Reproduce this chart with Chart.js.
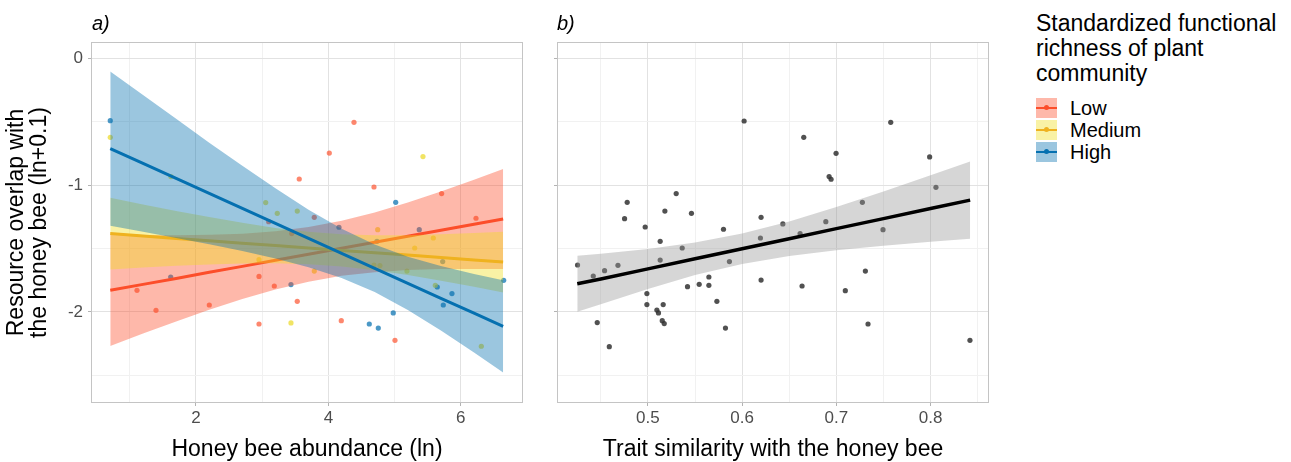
<!DOCTYPE html>
<html>
<head>
<meta charset="utf-8">
<script src="https://cdn.jsdelivr.net/npm/chart.js@4.4.0/dist/chart.umd.min.js"></script>
<style>
  body { margin: 0; width: 1291px; height: 462px; background: #fff; position: relative; overflow: hidden;
         font-family: "Liberation Sans", Arial, sans-serif; }
  canvas { position: absolute; top: 0; }
  #cA { left: 0; }
  #cB { left: 540px; }
  .tag { position: absolute; top: 12px; font-size: 20px; font-style: italic; color: #000; }
  #legendTitle { position: absolute; left: 1036px; top: 11px; font-size: 23px; line-height: 25px; color: #000; }
  .key { position: absolute; left: 1036px; width: 21px; height: 20px; }
  .key .ln { position: absolute; left: 0; top: 9px; width: 21px; height: 2.5px; }
  .key .pt { position: absolute; left: 8px; top: 7px; width: 5px; height: 5px; border-radius: 50%; }
  .lab { position: absolute; left: 1070px; font-size: 20px; line-height: 22px; color: #000; }
</style>
</head>
<body>
<canvas id="cA" width="540" height="462"></canvas>
<canvas id="cB" width="460" height="462"></canvas>
<div class="tag" style="left:92px">a)</div>
<div class="tag" style="left:557px">b)</div>
<div id="legendTitle">Standardized functional<br>richness of plant<br>community</div>
<div id="legend"></div>
<script>
// --- panel a: observations by functional richness class ---
const lowX  = [3.560, 3.787, 4.387, 4.014, 4.689, 5.711, 6.230, 3.098, 3.446, 1.109, 1.396, 2.201, 2.952, 3.183, 3.530, 2.952, 4.195, 5.006];
const lowY  = [-0.951, -1.254, -0.503, -0.746, -1.014, -1.066, -1.261, -1.288, -1.382, -1.830, -1.988, -1.946, -1.720, -1.796, -1.917, -2.096, -2.070, -2.225];
const medX  = [0.705, 1.622, 3.053, 3.228, 3.530, 5.429, 2.952, 3.435, 3.787, 4.745, 5.585, 5.304, 4.689, 4.779, 5.187, 5.615, 6.310];
const medY  = [-0.622, -0.932, -1.137, -1.222, -1.204, -0.774, -1.588, -2.088, -1.678, -1.351, -1.417, -1.496, -1.630, -1.635, -1.678, -1.791, -2.272];
const highX = [0.705, 5.017, 1.618, 3.435, 4.160, 5.373, 4.734, 5.727, 5.645, 5.867, 5.736, 6.648, 4.980, 4.618, 4.754];
const highY = [-0.490, -1.135, -1.725, -1.785, -1.332, -1.351, -1.443, -1.603, -1.804, -1.856, -1.946, -1.751, -2.009, -2.096, -2.128];

// --- panel a: fitted lines and 95% bands ---
const aFitX = [0.705, 1.2, 1.7, 2.2, 2.7, 3.2, 3.7, 4.2, 4.7, 5.2, 5.7, 6.2, 6.64];
const lowFit   = [-1.830, -1.783, -1.736, -1.688, -1.641, -1.593, -1.546, -1.498, -1.451, -1.403, -1.356, -1.309, -1.267];
const lowUpper = [-1.390, -1.394, -1.396, -1.392, -1.383, -1.363, -1.330, -1.281, -1.215, -1.137, -1.050, -0.957, -0.872];
const lowLower = [-2.270, -2.172, -2.076, -1.984, -1.899, -1.823, -1.762, -1.716, -1.687, -1.669, -1.662, -1.661, -1.662];
const medFit   = [-1.382, -1.401, -1.420, -1.439, -1.458, -1.477, -1.496, -1.515, -1.533, -1.552, -1.571, -1.590, -1.607];
const medUpper = [-1.099, -1.152, -1.203, -1.252, -1.297, -1.337, -1.368, -1.387, -1.395, -1.395, -1.388, -1.378, -1.367];
const medLower = [-1.665, -1.650, -1.637, -1.626, -1.619, -1.617, -1.624, -1.642, -1.671, -1.709, -1.754, -1.802, -1.847];
const highFit   = [-0.711, -0.828, -0.946, -1.065, -1.183, -1.301, -1.420, -1.538, -1.656, -1.775, -1.893, -2.011, -2.115];
const highUpper = [-0.101, -0.288, -0.476, -0.664, -0.846, -1.024, -1.193, -1.344, -1.468, -1.565, -1.639, -1.702, -1.750];
const highLower = [-1.321, -1.368, -1.416, -1.466, -1.520, -1.578, -1.647, -1.732, -1.844, -1.985, -2.147, -2.321, -2.480];

// --- panel b: trait similarity ---
const bX = [0.4253, 0.4420, 0.4540, 0.4682, 0.4462, 0.4590, 0.4780, 0.4752, 0.4971, 0.5300, 0.5180, 0.5462, 0.5130,
            0.5364, 0.5130, 0.4989, 0.4989, 0.5162, 0.5095, 0.5112, 0.5152, 0.5173, 0.5420, 0.5544, 0.5647, 0.5647,
            0.5732, 0.5823, 0.5802, 0.5865, 0.6021, 0.6201, 0.6194, 0.6201, 0.6654, 0.6997, 0.6923, 0.6944, 0.7577,
            0.7990, 0.8057, 0.6432, 0.6615, 0.6888, 0.7276, 0.7495, 0.6636, 0.7095, 0.7308, 0.7336, 0.8418];
const bY = [-1.630, -1.717, -1.675, -1.633, -2.085, -2.275, -1.135, -1.264, -1.330, -1.066, -1.204, -1.222, -1.443,
            -1.496, -1.591, -1.856, -1.943, -1.943, -1.986, -2.009, -2.070, -2.093, -1.801, -1.783, -1.725, -1.791,
            -1.917, -2.128, -1.348, -1.603, -0.493, -1.254, -1.417, -1.749, -0.622, -0.748, -0.932, -0.953, -0.503,
            -0.777, -1.017, -1.306, -1.382, -1.288, -1.135, -1.351, -1.796, -1.833, -1.678, -2.096, -2.225];
const bFitX  = [0.425, 0.45, 0.5, 0.55, 0.6, 0.65, 0.7, 0.75, 0.8, 0.842];
const bFit   = [-1.778, -1.741, -1.661, -1.581, -1.502, -1.423, -1.343, -1.264, -1.184, -1.118];
const bUpper = [-1.558, -1.541, -1.503, -1.452, -1.381, -1.286, -1.172, -1.050, -0.922, -0.813];
const bLower = [-2.000, -1.940, -1.820, -1.710, -1.622, -1.560, -1.514, -1.478, -1.446, -1.423];

// --- axes ---
const yTicks = [-2.5, -2, -1.5, -1, -0.5, 0];
const yLabels = [-2, -1, 0];
const aXTicks = [1, 2, 3, 4, 5, 6];
const aXLabels = [2, 4, 6];
const bXTicks = [0.45, 0.5, 0.55, 0.6, 0.65, 0.7, 0.75, 0.8, 0.85];
const bXLabels = [0.5, 0.6, 0.7, 0.8];

const groups = ["Low", "Medium", "High"];
const lineColors = ["#FC4E2A", "#EFB21F", "#0570B0"];
const fillColors = ["rgba(252,78,42,0.4)", "rgba(240,222,30,0.4)", "rgba(5,112,176,0.4)"];
const pointColors = ["rgba(252,78,42,0.68)", "rgba(236,218,40,0.72)", "rgba(5,112,176,0.72)"];

const FONT = '"Liberation Sans", Arial, sans-serif';

function zip(xs, ys) {
  return xs.map((x, i) => ({ x: x, y: ys[i] }));
}

function hasValue(list, v) {
  return list.some(l => Math.abs(l - v) < 1e-9);
}

function pointSet(xs, ys, color, order) {
  return { data: zip(xs, ys), showLine: false, pointRadius: 2.6, pointBorderWidth: 0,
           pointBackgroundColor: color, order: order };
}

// two datasets: invisible lower edge, then upper edge filled down to it
function bandSets(xs, lower, upper, fill, order) {
  return [
    { data: zip(xs, lower), borderWidth: 0, borderColor: "transparent", pointRadius: 0, fill: false, order: order },
    { data: zip(xs, upper), borderWidth: 0, borderColor: "transparent", pointRadius: 0, fill: "-1",
      backgroundColor: fill, order: order }
  ];
}

function fitSet(xs, ys, color, width, order) {
  return { data: zip(xs, ys), borderColor: color, borderWidth: width, pointRadius: 0, fill: false, order: order };
}

const panelBorder = {
  id: "panelBorder",
  afterDatasetsDraw(chart) {
    const { ctx, chartArea: a } = chart;
    ctx.save();
    ctx.strokeStyle = "#C4C4C4";
    ctx.lineWidth = 1;
    ctx.strokeRect(a.left + 0.5, a.top + 0.5, a.right - a.left - 1, a.bottom - a.top - 1);
    ctx.restore();
  }
};

function gridFor(majors) {
  return {
    color: ctx => hasValue(majors, ctx.tick.value) ? "#E2E2E2" : "#F1F1F1",
    tickColor: ctx => hasValue(majors, ctx.tick.value) ? "#B3B3B3" : "transparent",
    tickLength: 3,
    lineWidth: 1
  };
}

function makePanel(canvas, datasets, p) {
  return new Chart(canvas, {
    type: "line",
    data: { datasets: datasets },
    plugins: [panelBorder],
    options: {
      responsive: false,
      animation: false,
      events: [],
      layout: { padding: { top: 42, right: p.padRight, bottom: 0, left: 0 } },
      plugins: { legend: { display: false }, tooltip: { enabled: false } },
      scales: {
        x: {
          type: "linear", min: p.xMin, max: p.xMax,
          afterBuildTicks: s => { s.ticks = p.xTicks.map(v => ({ value: v })); },
          afterFit: s => { s.height = 59; },
          grid: gridFor(p.xLabels),
          border: { display: false },
          ticks: {
            autoSkip: false, maxRotation: 0, padding: 2,
            color: "#4D4D4D", font: { family: FONT, size: 17 },
            callback: v => hasValue(p.xLabels, v) ? String(v) : ""
          },
          title: { display: true, text: p.xTitle, color: "#000", padding: { top: 0, bottom: 1 },
                   font: { family: FONT, size: 23, lineHeight: 1.0 } }
        },
        y: {
          type: "linear", min: -2.72, max: 0.131,
          afterBuildTicks: s => { s.ticks = yTicks.map(v => ({ value: v })); },
          afterFit: s => { s.width = p.yWidth; },
          grid: gridFor(yLabels),
          border: { display: false },
          ticks: {
            autoSkip: false, padding: 5,
            color: "#4D4D4D", font: { family: FONT, size: 17 },
            callback: v => (p.yTitle && hasValue(yLabels, v)) ? String(v) : ""
          },
          title: { display: !!p.yTitle, text: p.yTitle || "", color: "#000", padding: { top: 5.5, bottom: 0 },
                   font: { family: FONT, size: 23, lineHeight: 1.0 } }
        }
      }
    }
  });
}

// panel a
const aSets = [
  pointSet(lowX, lowY, pointColors[0], 100),
  pointSet(medX, medY, pointColors[1], 100),
  pointSet(highX, highY, pointColors[2], 100),
  ...bandSets(aFitX, lowLower, lowUpper, fillColors[0], 60),
  fitSet(aFitX, lowFit, lineColors[0], 3, 55),
  ...bandSets(aFitX, medLower, medUpper, fillColors[1], 50),
  fitSet(aFitX, medFit, lineColors[1], 3, 45),
  ...bandSets(aFitX, highLower, highUpper, fillColors[2], 40),
  fitSet(aFitX, highFit, lineColors[2], 3, 35)
];
makePanel(document.getElementById("cA"), aSets, {
  xMin: 0.414, xMax: 6.94, xTicks: aXTicks, xLabels: aXLabels,
  xTitle: "Honey bee abundance (ln)",
  yTitle: ["Resource overlap with", "the honey bee (ln+0.1)"],
  yWidth: 91, padRight: 17
});

// panel b
const bSets = [
  pointSet(bX, bY, "rgba(50,50,50,0.85)", 100),
  ...bandSets(bFitX, bLower, bUpper, "rgba(153,153,153,0.4)", 50),
  fitSet(bFitX, bFit, "#000", 3.5, 40)
];
makePanel(document.getElementById("cB"), bSets, {
  xMin: 0.4035, xMax: 0.862, xTicks: bXTicks, xLabels: bXLabels,
  xTitle: "Trait similarity with the honey bee",
  yTitle: null, yWidth: 17, padRight: 11
});

// legend keys
const legend = document.getElementById("legend");
const keyTops = [97.5, 119.5, 141.5];
groups.forEach((g, i) => {
  const key = document.createElement("div");
  key.className = "key";
  key.style.top = keyTops[i] + "px";
  key.style.background = fillColors[i];
  key.innerHTML = '<div class="ln" style="background:' + lineColors[i] + '"></div>' +
                  '<div class="pt" style="background:' + lineColors[i] + '"></div>';
  legend.appendChild(key);
  const lab = document.createElement("div");
  lab.className = "lab";
  lab.style.top = (keyTops[i] - 1) + "px";
  lab.textContent = g;
  legend.appendChild(lab);
});
</script>
</body>
</html>
